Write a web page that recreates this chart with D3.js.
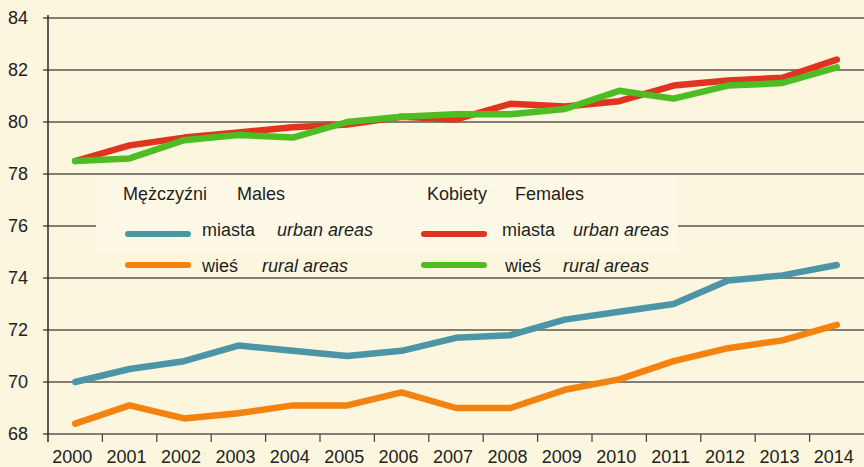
<!DOCTYPE html>
<html>
<head>
<meta charset="utf-8">
<script src="https://cdn.jsdelivr.net/npm/d3@7"></script>
<style>
  body { margin: 0; background: #fdf6df; }
  svg { display: block; font-family: "Liberation Sans", Arial, sans-serif; }
</style>
</head>
<body>
<div class="draw-linechart"></div>
<script>
const years = ["2000", "2001", "2002", "2003", "2004", "2005", "2006", "2007",
  "2008", "2009", "2010", "2011", "2012", "2013", "2014"];
const yTicks = [68, 70, 72, 74, 76, 78, 80, 82, 84];

const malesUrban = [70.0, 70.5, 70.8, 71.4, 71.2, 71.0, 71.2, 71.7, 71.8, 72.4, 72.7, 73.0, 73.9, 74.1, 74.5];
const malesRural = [68.4, 69.1, 68.6, 68.8, 69.1, 69.1, 69.6, 69.0, 69.0, 69.7, 70.1, 70.8, 71.3, 71.6, 72.2];
const femalesUrban = [78.5, 79.1, 79.4, 79.6, 79.8, 79.9, 80.2, 80.1, 80.7, 80.6, 80.8, 81.4, 81.6, 81.7, 82.4];
const femalesRural = [78.5, 78.6, 79.3, 79.5, 79.4, 80.0, 80.2, 80.3, 80.3, 80.5, 81.2, 80.9, 81.4, 81.5, 82.1];

const series = [
  { key: "mu", values: malesUrban, color: "#4c95a7" },
  { key: "mr", values: malesRural, color: "#f4820f" },
  { key: "fu", values: femalesUrban, color: "#e03421" },
  { key: "fr", values: femalesRural, color: "#4ebc23" },
];

const W = 864, H = 467;
const margin = { top: 18, right: 0, bottom: 33, left: 48 };

const svg = d3.select(".draw-linechart")
  .append("svg")
  .attr("width", W)
  .attr("height", H);

svg.append("rect").attr("width", W).attr("height", H).attr("fill", "#fdf6df");

const x = d3.scaleBand().domain(years).range([margin.left, W - margin.right]);
const y = d3.scaleLinear().domain([68, 84]).range([H - margin.bottom, margin.top]);

// gridlines
svg.append("g")
  .selectAll("line")
  .data(yTicks)
  .enter()
  .append("line")
  .attr("x1", margin.left - 5)
  .attr("x2", W)
  .attr("y1", (d) => y(d))
  .attr("y2", (d) => y(d))
  .attr("stroke", "#5a5750")
  .attr("stroke-width", 1.3);

// y axis line
svg.append("line")
  .attr("x1", margin.left).attr("x2", margin.left)
  .attr("y1", 15).attr("y2", y(68) + 8)
  .attr("stroke", "#2a2a2a")
  .attr("stroke-width", 1.5);

// x ticks at band edges
svg.append("g")
  .selectAll("line")
  .data(years.slice(1))
  .enter()
  .append("line")
  .attr("x1", (d) => x(d))
  .attr("x2", (d) => x(d))
  .attr("y1", y(68))
  .attr("y2", y(68) + 8)
  .attr("stroke", "#4a4a4a")
  .attr("stroke-width", 1.3);

// y labels
svg.append("g")
  .selectAll("text")
  .data(yTicks)
  .enter()
  .append("text")
  .attr("x", 28)
  .attr("y", (d) => y(d))
  .attr("dy", "0.35em")
  .attr("text-anchor", "end")
  .style("font-size", "18px")
  .attr("fill", "#222")
  .text((d) => d);

// x labels
svg.append("g")
  .selectAll("text")
  .data(years)
  .enter()
  .append("text")
  .attr("x", (d) => x(d) + x.bandwidth() / 2 - 3)
  .attr("y", 463)
  .attr("text-anchor", "middle")
  .style("font-size", "18px")
  .attr("fill", "#222")
  .text((d) => d);

// legend box (drawn under the lines)
svg.append("rect")
  .attr("x", 96).attr("y", 176)
  .attr("width", 582).attr("height", 76)
  .attr("fill", "#fef9e7");

const line = d3.line()
  .x((d, i) => x(years[i]) + x.bandwidth() / 2)
  .y((d) => y(d));

svg.append("g")
  .selectAll("path")
  .data(series)
  .enter()
  .append("path")
  .attr("d", (d) => line(d.values))
  .attr("fill", "none")
  .attr("stroke", (d) => d.color)
  .attr("stroke-width", 6.5)
  .attr("stroke-linejoin", "round")
  .attr("stroke-linecap", "round");

// legend
const legendText = (tx, ty, str, italic) =>
  svg.append("text")
    .attr("x", tx).attr("y", ty)
    .attr("dy", "0.35em")
    .style("font-size", "18px")
    .style("font-style", italic ? "italic" : "normal")
    .attr("fill", "#1e1e1e")
    .text(str);

const swatch = (sx, sy, color) =>
  svg.append("line")
    .attr("x1", sx).attr("x2", sx + 60)
    .attr("y1", sy).attr("y2", sy)
    .attr("stroke", color)
    .attr("stroke-width", 6)
    .attr("stroke-linecap", "round");

legendText(123, 194, "Mężczyźni", false);
legendText(237, 194, "Males", false);
legendText(427, 194, "Kobiety", false);
legendText(515, 194, "Females", false);

swatch(128, 234, series[0].color);
legendText(202, 230, "miasta", false);
legendText(277, 230, "urban areas", true);
swatch(424, 234, series[2].color);
legendText(502, 230, "miasta", false);
legendText(573, 230, "urban areas", true);

swatch(128, 265, series[1].color);
legendText(202, 266, "wieś", false);
legendText(262, 266, "rural areas", true);
swatch(424, 265, series[3].color);
legendText(505, 266, "wieś", false);
legendText(563, 266, "rural areas", true);
</script>
</body>
</html>
